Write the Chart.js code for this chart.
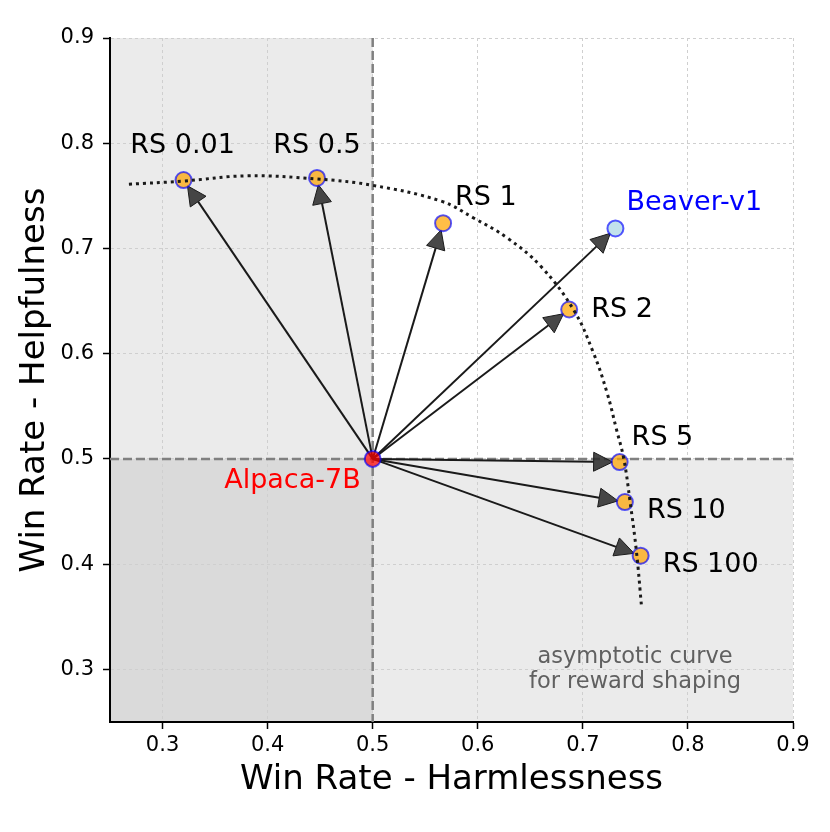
<!DOCTYPE html>
<html>
<head>
<meta charset="utf-8">
<script src="https://cdn.jsdelivr.net/npm/chart.js@4.4.0/dist/chart.umd.min.js"></script>
<style>
    html, body { margin: 0; padding: 0; background: #fff; }
    #wrap { width: 830px; height: 832px; }
</style>
</head>
<body>
<div id="wrap"><canvas id="WinRateChart"></canvas></div>
<script>
const rs_labels = ['RS 0.01', 'RS 0.5', 'RS 1', 'RS 2', 'RS 5', 'RS 10', 'RS 100'];
const rs_harmless = [0.320, 0.447, 0.567, 0.687, 0.735, 0.740, 0.755];
const rs_helpful = [0.765, 0.767, 0.724, 0.642, 0.497, 0.459, 0.408];

const base_label = 'Alpaca-7B';
const base_harmless = 0.5;
const base_helpful = 0.5;

const beaver_label = 'Beaver-v1';
const beaver_harmless = 0.731;
const beaver_helpful = 0.719;

// dotted asymptotic curve
const curve_harmless = [0.268, 0.319, 0.381, 0.447, 0.500, 0.565, 0.596, 0.628, 0.660, 0.691, 0.710, 0.723, 0.732, 0.739, 0.745, 0.751, 0.756];
const curve_helpful = [0.761, 0.764, 0.769, 0.766, 0.760, 0.745, 0.729, 0.710, 0.683, 0.642, 0.601, 0.563, 0.528, 0.500, 0.459, 0.412, 0.358];

const tick_values = [0.3, 0.4, 0.5, 0.6, 0.7, 0.8, 0.9];
const axis_min = 0.25;
const axis_max = 0.9;

const note_lines = ['asymptotic curve', 'for reward shaping'];

// label offsets in px: [dx, dy, align]
const label_place = [
    [-1, -34, 'center'],
    [0, -32, 'center'],
    [12, -25, 'left'],
    [22, 0, 'left'],
    [12, -24, 'left'],
    [22, 9, 'left'],
    [22, 9, 'left']
];

const FONT = "'DejaVu Sans', sans-serif";

const rs_points = rs_harmless.map((x, i) => ({x: x, y: rs_helpful[i]}));
const curve_points = curve_harmless.map((x, i) => ({x: x, y: curve_helpful[i]}));

function drawArrow(ctx, x0, y0, x1, y1) {
    const dx = x1 - x0, dy = y1 - y0;
    const len = Math.sqrt(dx * dx + dy * dy);
    const ux = dx / len, uy = dy / len;
    const tipX = x1 - ux * 7, tipY = y1 - uy * 7;
    const headLen = 19, headW = 9.5;
    const bx = tipX - ux * headLen, by = tipY - uy * headLen;
    ctx.save();
    ctx.strokeStyle = '#1a1a1a';
    ctx.lineWidth = 2;
    ctx.beginPath();
    ctx.moveTo(x0, y0);
    ctx.lineTo(bx, by);
    ctx.stroke();
    ctx.beginPath();
    ctx.moveTo(tipX, tipY);
    ctx.lineTo(bx - uy * headW, by + ux * headW);
    ctx.lineTo(bx + uy * headW, by - ux * headW);
    ctx.closePath();
    ctx.fillStyle = 'rgba(40,40,40,0.85)';
    ctx.fill();
    ctx.lineWidth = 1;
    ctx.stroke();
    ctx.restore();
}

const decorPlugin = {
    id: 'decor',
    beforeDraw(chart) {
        const {ctx, chartArea, scales} = chart;
        const xs = scales.x, ys = scales.y;
        ctx.save();
        ctx.fillStyle = 'rgba(128,128,128,0.16)';
        // left band (harmlessness below 0.5)
        ctx.fillRect(xs.getPixelForValue(axis_min), chartArea.top,
            xs.getPixelForValue(base_harmless) - xs.getPixelForValue(axis_min), chartArea.bottom - chartArea.top);
        // lower band (helpfulness below 0.5)
        ctx.fillRect(chartArea.left, ys.getPixelForValue(base_helpful),
            chartArea.right - chartArea.left, ys.getPixelForValue(axis_min) - ys.getPixelForValue(base_helpful));
        ctx.restore();
    },
    beforeDatasetsDraw(chart) {
        const {ctx, chartArea, scales} = chart;
        const xs = scales.x, ys = scales.y;
        const bx = xs.getPixelForValue(base_harmless);
        const by = ys.getPixelForValue(base_helpful);
        ctx.save();
        ctx.strokeStyle = '#808080';
        ctx.lineWidth = 2.5;
        ctx.setLineDash([9, 4]);
        ctx.beginPath();
        ctx.moveTo(bx, chartArea.top);
        ctx.lineTo(bx, chartArea.bottom);
        ctx.moveTo(chartArea.left, by);
        ctx.lineTo(chartArea.right, by);
        ctx.stroke();
        ctx.restore();

        rs_points.forEach(p => {
            drawArrow(ctx, bx, by, xs.getPixelForValue(p.x), ys.getPixelForValue(p.y));
        });
        drawArrow(ctx, bx, by, xs.getPixelForValue(beaver_harmless), ys.getPixelForValue(beaver_helpful));
    },
    afterDatasetsDraw(chart) {
        const {ctx, chartArea, scales} = chart;
        const xs = scales.x, ys = scales.y;
        ctx.save();
        ctx.font = '27px ' + FONT;
        ctx.textBaseline = 'middle';
        ctx.fillStyle = '#000';
        rs_points.forEach((p, i) => {
            const pl = label_place[i];
            ctx.textAlign = pl[2];
            ctx.fillText(rs_labels[i], xs.getPixelForValue(p.x) + pl[0], ys.getPixelForValue(p.y) + pl[1]);
        });
        ctx.fillStyle = '#0000ff';
        ctx.textAlign = 'left';
        ctx.fillText(beaver_label, xs.getPixelForValue(beaver_harmless) + 11, ys.getPixelForValue(beaver_helpful) - 25);
        ctx.fillStyle = '#ff0000';
        ctx.textAlign = 'right';
        ctx.fillText(base_label, xs.getPixelForValue(base_harmless) - 12, ys.getPixelForValue(base_helpful) + 22);

        ctx.font = '22.5px ' + FONT;
        ctx.fillStyle = '#606060';
        ctx.textAlign = 'center';
        ctx.fillText(note_lines[0], 635, 657);
        ctx.fillText(note_lines[1], 635, 682);
        ctx.restore();
    }
};

const tickFont = {family: FONT, size: 21};

const configScatter = {
    type: 'scatter',
    data: {
        datasets: [
            {
                label: 'curve',
                data: curve_points,
                showLine: true,
                borderColor: '#1a1a1a',
                borderWidth: 3,
                borderDash: [3, 4],
                pointRadius: 0,
                tension: 0.4,
                order: 0
            },
            {
                label: 'RS',
                data: rs_points,
                backgroundColor: 'rgba(255,165,0,0.72)',
                borderColor: 'rgba(0,0,255,0.65)',
                borderWidth: 2,
                pointRadius: 8,
                order: 1
            },
            {
                label: beaver_label,
                data: [{x: beaver_harmless, y: beaver_helpful}],
                backgroundColor: 'rgba(173,216,230,0.75)',
                borderColor: 'rgba(0,0,255,0.65)',
                borderWidth: 2,
                pointRadius: 8,
                order: 1
            },
            {
                label: base_label,
                data: [{x: base_harmless, y: base_helpful}],
                backgroundColor: 'rgba(255,0,0,0.72)',
                borderColor: 'rgba(0,0,255,0.65)',
                borderWidth: 2,
                pointRadius: 8,
                order: 1
            }
        ]
    },
    options: {
        responsive: true,
        maintainAspectRatio: false,
        animation: false,
        layout: {
            padding: {top: 38, right: 37, left: 0, bottom: 0}
        },
        plugins: {
            legend: {display: false},
            tooltip: {enabled: false}
        },
        scales: {
            x: {
                type: 'linear',
                min: axis_min,
                max: axis_max,
                afterBuildTicks: (scale) => { scale.ticks = tick_values.map(v => ({value: v})); },
                afterFit: (scale) => { scale.height = 110; scale.paddingLeft = 0; scale.paddingRight = 0; },
                grid: {color: '#cfcfcf', lineWidth: 1, tickLength: 7, tickColor: '#000', tickWidth: 1.5},
                border: {display: true, color: '#000', width: 2, dash: [3, 3]},
                ticks: {
                    font: tickFont, color: '#000', padding: 4, maxRotation: 0,
                    callback: (v) => v.toFixed(1)
                },
                title: {
                    display: true,
                    text: 'Win Rate - Harmlessness',
                    font: {family: FONT, size: 34},
                    color: '#000',
                    padding: {bottom: 31}
                }
            },
            y: {
                type: 'linear',
                min: axis_min,
                max: axis_max,
                afterBuildTicks: (scale) => { scale.ticks = tick_values.map(v => ({value: v})); },
                afterFit: (scale) => { scale.width = 110; scale.paddingTop = 0; scale.paddingBottom = 0; },
                grid: {color: '#cfcfcf', lineWidth: 1, tickLength: 7, tickColor: '#000', tickWidth: 1.5},
                border: {display: true, color: '#000', width: 2, dash: [3, 3]},
                ticks: {
                    font: tickFont, color: '#000', padding: 9,
                    callback: (v) => v.toFixed(1)
                },
                title: {
                    display: true,
                    text: 'Win Rate - Helpfulness',
                    font: {family: FONT, size: 34},
                    color: '#000',
                    padding: {top: 15}
                }
            }
        }
    },
    plugins: [decorPlugin]
};

const WinRateChart = new Chart(
    document.getElementById('WinRateChart'),
    configScatter
);
</script>
</body>
</html>
